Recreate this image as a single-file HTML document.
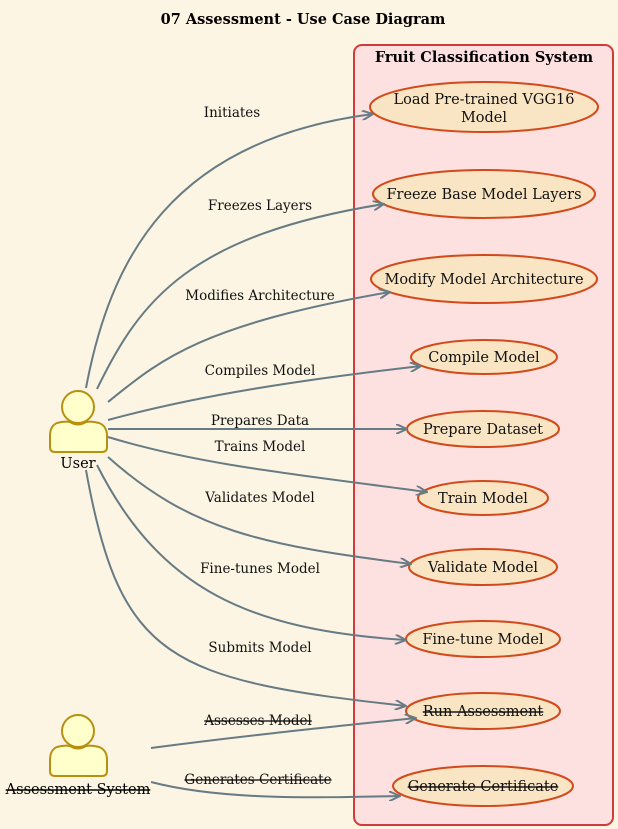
<!DOCTYPE html>
<html><head><meta charset="utf-8"><style>
body{margin:0;background:#fcf5e3;}
svg{display:block;font-family:"DejaVu Serif","Liberation Serif",serif;}
</style></head><body>
<svg width="618" height="829" viewBox="0 0 618 829" xmlns="http://www.w3.org/2000/svg">
<defs><marker id="a" markerWidth="12" markerHeight="10" refX="11" refY="5" orient="auto" markerUnits="userSpaceOnUse"><path d="M0,0 L11,5 L0,10" fill="none" stroke="#667b83" stroke-width="2"/></marker></defs>
<rect width="618" height="829" fill="#fcf5e3"/>
<text x="303" y="24" font-size="14.5" font-weight="bold" text-anchor="middle" fill="#000">07 Assessment - Use Case Diagram</text>
<rect x="354" y="45" width="259" height="780" rx="8" fill="#fde0e0" stroke="#d23b3b" stroke-width="2"/>
<text x="484" y="62" font-size="14.5" font-weight="bold" text-anchor="middle">Fruit Classification System</text>
<g fill="#f9e5c3" stroke="#d24a1a" stroke-width="2">
<ellipse cx="484" cy="107" rx="114" ry="25"/>
<ellipse cx="484" cy="194" rx="111" ry="24"/>
<ellipse cx="484" cy="279" rx="113" ry="24"/>
<ellipse cx="484" cy="357" rx="73" ry="17"/>
<ellipse cx="483" cy="429" rx="76" ry="18"/>
<ellipse cx="483" cy="498" rx="65" ry="17"/>
<ellipse cx="483" cy="567" rx="74" ry="18"/>
<ellipse cx="483" cy="639" rx="77" ry="18"/>
<ellipse cx="483" cy="711" rx="77" ry="18"/>
<ellipse cx="483" cy="786" rx="90" ry="20"/>
</g>
<g font-size="14.5" text-anchor="middle" fill="#111">
<text x="484" y="104">Load Pre-trained VGG16</text><text x="484" y="122">Model</text>
<text x="484" y="199">Freeze Base Model Layers</text>
<text x="484" y="284">Modify Model Architecture</text>
<text x="484" y="362">Compile Model</text>
<text x="483" y="434">Prepare Dataset</text>
<text x="483" y="503">Train Model</text>
<text x="483" y="572">Validate Model</text>
<text x="483" y="644">Fine-tune Model</text>
<text x="483" y="716" text-decoration="line-through">Run Assessment</text>
<text x="483" y="791" text-decoration="line-through">Generate Certificate</text>
</g>
<g fill="none" stroke="#667b83" stroke-width="2" marker-end="url(#a)">
<path d="M86,388 C110,260 170,140 373,114"/>
<path d="M97,389 C140,300 190,235 384,204"/>
<path d="M108,402 C160,360 200,325 390,292"/>
<path d="M108,420 C200,395 300,380 421,366"/>
<path d="M108,429 L407,429"/>
<path d="M108,437 C200,465 300,475 427,492"/>
<path d="M108,457 C190,530 260,545 411,564"/>
<path d="M97,465 C160,590 250,630 406,640"/>
<path d="M86,470 C120,660 170,680 406,706"/>
<path d="M151,748 C250,735 330,727 416,718"/>
<path d="M151,782 C220,800 310,798 400,796"/>
</g>
<g font-size="13.5" text-anchor="middle" fill="#111">
<text x="232" y="117">Initiates</text>
<text x="260" y="210">Freezes Layers</text>
<text x="260" y="300">Modifies Architecture</text>
<text x="260" y="375">Compiles Model</text>
<text x="260" y="425">Prepares Data</text>
<text x="260" y="451">Trains Model</text>
<text x="260" y="502">Validates Model</text>
<text x="260" y="573">Fine-tunes Model</text>
<text x="260" y="652">Submits Model</text>
<text x="258" y="725" text-decoration="line-through">Assesses Model</text>
<text x="258" y="784" text-decoration="line-through">Generates Certificate</text>
</g>
<g fill="#ffffcc" stroke="#b8900f" stroke-width="2">
<circle cx="78" cy="407" r="16"/>
<path d="M57,423 Q64,421 70,422 Q78,427 86,422 Q92,421 99,423 Q107,426 107,436 L107,447 Q107,452 102,452 L55,452 Q50,452 50,447 L50,436 Q50,426 57,423 Z"/>
<circle cx="78" cy="731" r="16"/>
<path d="M57,747 Q64,745 70,746 Q78,751 86,746 Q92,745 99,747 Q107,750 107,760 L107,771 Q107,776 102,776 L55,776 Q50,776 50,771 L50,760 Q50,750 57,747 Z"/>
</g>
<text x="78" y="468" font-size="14.5" text-anchor="middle">User</text>
<text x="78" y="794" font-size="14.5" text-anchor="middle" text-decoration="line-through">Assessment System</text>
</svg>
</body></html>
